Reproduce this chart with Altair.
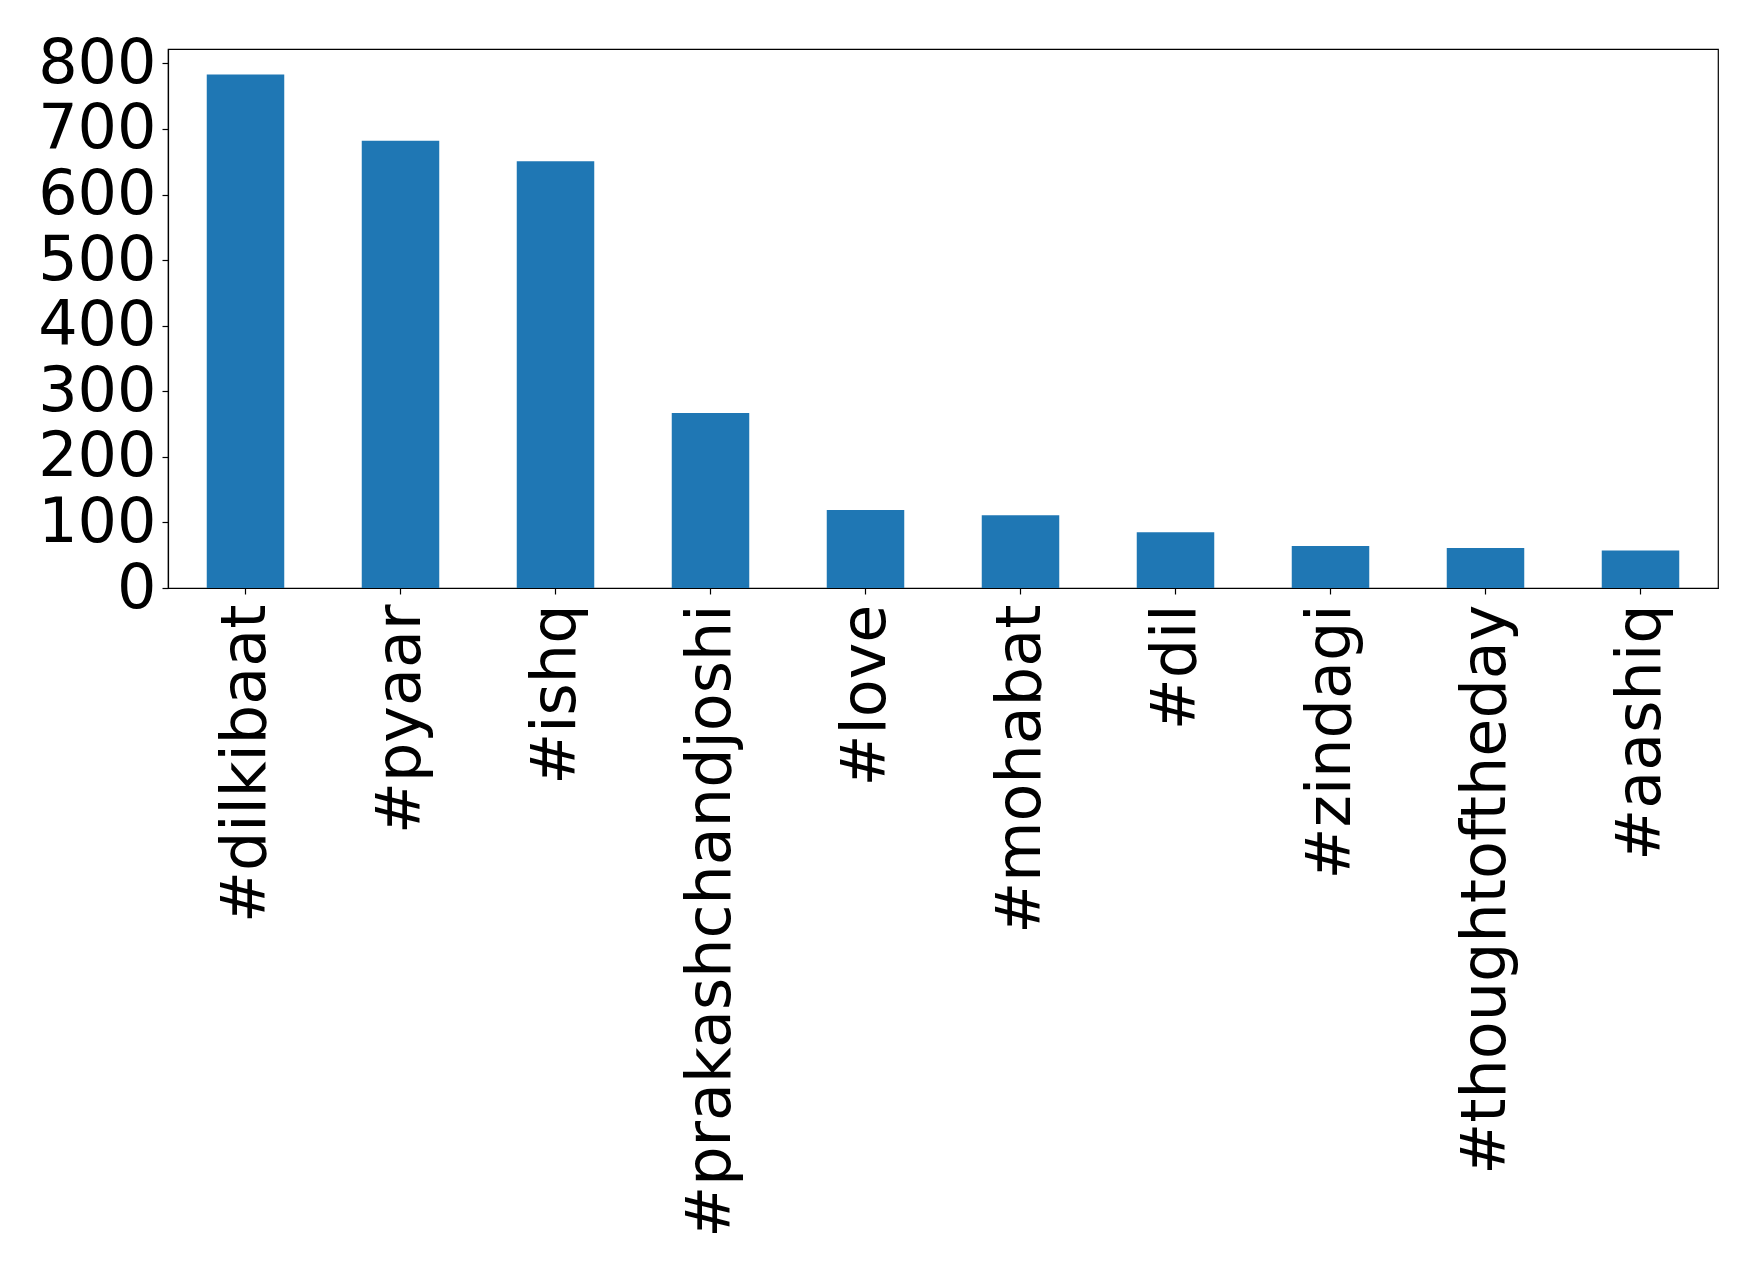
import altair as alt
import pandas as pd

hashtags = ["#dilkibaat", "#pyaar", "#ishq", "#prakashchandjoshi", "#love",
            "#mohabat", "#dil", "#zindagi", "#thoughtoftheday", "#aashiq"]
counts = [783, 682, 651, 267, 119, 111, 85, 64, 61, 57]

df = pd.DataFrame({"hashtag": hashtags, "count": counts})

chart = alt.Chart(df).mark_bar(color="#1f77b4").encode(
    x=alt.X("hashtag:N", sort=hashtags, title=None,
            scale=alt.Scale(paddingInner=0.5, paddingOuter=0.25),
            axis=alt.Axis(labelAngle=-90, labelFontSize=62, labelFont="DejaVu Sans",
                          labelColor="black", tickColor="black", domainColor="black",
                          tickSize=6, labelPadding=10, labelLimit=0)),
    y=alt.Y("count:Q", title=None,
            scale=alt.Scale(domain=[0, 822], nice=False, zero=True),
            axis=alt.Axis(values=[0, 100, 200, 300, 400, 500, 600, 700, 800],
                          labelFontSize=62, labelFont="DejaVu Sans",
                          labelColor="black", tickColor="black", domainColor="black",
                          tickSize=6, labelPadding=6, grid=False, labelFlush=False)),
).properties(
    width=1550, height=539,
    autosize=alt.AutoSizeParams(type="none"),
    padding={"left": 160, "top": 41, "right": 30, "bottom": 670},
).configure_view(
    stroke="black", strokeWidth=1.2
).configure_axis(
    domainWidth=1.2, tickWidth=1.2
)

chart.save("out.html", embed_options={"renderer": "svg", "actions": False})
